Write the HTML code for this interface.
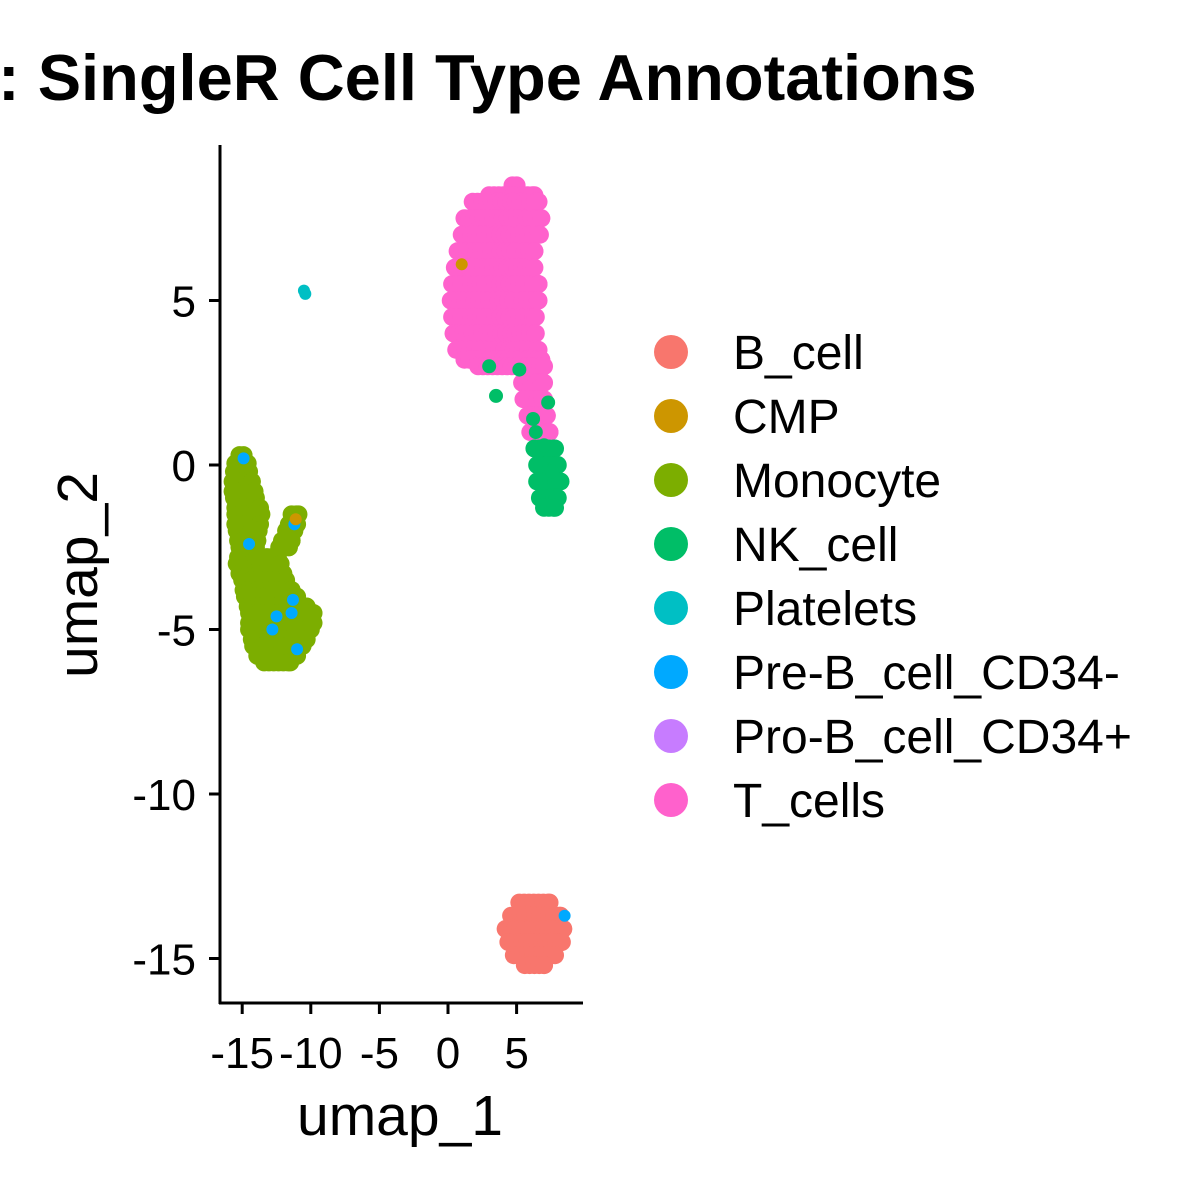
<!DOCTYPE html>
<html><head><meta charset="utf-8"><style>
body{margin:0;background:#fff;}
svg{display:block;font-family:"Liberation Sans",Arial,sans-serif;}
</style></head><body>
<svg id="chart" width="1200" height="1200">
<text x="-2" y="100" font-size="65" font-weight="bold">: SingleR Cell Type Annotations</text>
<g id="points"></g>
<line x1="220" y1="145" x2="220" y2="1004" stroke="#000" stroke-width="3"/>
<line x1="219" y1="1003" x2="583" y2="1003" stroke="#000" stroke-width="3"/>
<g id="xticks"></g>
<g id="yticks"></g>
<text x="400" y="1135" font-size="57" text-anchor="middle">umap_1</text>
<text transform="translate(97,575) rotate(-90)" font-size="57" text-anchor="middle">umap_2</text>
<g id="legend"></g>
</svg>
<script>
const xTicks=[-15,-10,-5,0,5];
const xTickLabels=["-15","-10","-5","0","5"];
const yTicks=[5,0,-5,-10,-15];
const yTickLabels=["5","0","-5","-10","-15"];
const categories=["B_cell","CMP","Monocyte","NK_cell","Platelets","Pre-B_cell_CD34-","Pro-B_cell_CD34+","T_cells"];
const colors=["#F8766D","#CD9600","#7CAE00","#00BE67","#00BFC4","#00A9FF","#C77CFF","#FF61CC"];
// cluster rows: y, x-start, x-end
const monoY=[0.3,0.05,-0.2,-0.5,-0.8,-1.0,-1.3,-1.5,-1.5,-1.8,-1.8,-2.0,-2.0,-2.3,-2.3,-2.5,-2.5,-2.8,-3.0,-3.3,-3.5,-3.8,-4.0,-4.3,-4.5,-4.8,-5.0,-5.3,-5.5,-5.8,-6.0];
const monoX0=[-15.2,-15.5,-15.6,-15.7,-15.7,-15.6,-15.5,-15.5,-11.4,-15.5,-11.6,-15.4,-11.8,-15.3,-12.1,-15.2,-12.3,-15.3,-15.4,-15.2,-15.0,-14.9,-14.8,-14.6,-14.5,-14.5,-14.5,-14.3,-14.2,-13.9,-13.4];
const monoX1=[-14.9,-14.6,-14.5,-14.3,-14.1,-14.0,-13.7,-13.6,-10.9,-13.7,-11.0,-13.8,-11.2,-13.9,-11.4,-14.0,-11.6,-12.4,-12.2,-12.0,-11.8,-11.4,-11.0,-10.3,-9.8,-9.8,-10.0,-10.3,-10.6,-11.0,-11.5];
const tY=[8.5,8.2,8.0,7.5,7.0,6.5,6.0,5.5,5.0,4.5,4.0,3.5,3.2,3.0,2.5,2.0,1.5,1.0];
const tX0=[4.7,3.0,1.8,1.2,1.0,0.7,0.5,0.3,0.2,0.3,0.4,0.6,1.2,2.2,5.4,5.5,5.8,6.0];
const tX1=[5.0,6.3,6.6,6.8,6.7,6.3,6.3,6.6,6.6,6.4,6.4,6.6,6.8,7.0,7.0,7.0,7.2,7.4];
const nkY=[0.5,0,-0.5,-1.0,-1.3];
const nkX0=[6.3,6.5,6.5,6.7,7.0];
const nkX1=[7.8,8.0,8.2,8.0,7.8];
const nkExtraX=[3.0,3.5,5.2,6.4,7.3,7.0,6.2,7.6];
const nkExtraY=[3.0,2.1,2.9,1.0,1.9,0.6,1.4,-0.2];
const bY=[-13.3,-13.7,-14.1,-14.5,-14.9,-15.2];
const bX0=[5.2,4.6,4.2,4.4,4.8,5.6];
const bX1=[7.4,8.2,8.4,8.3,7.8,7.0];
const preBX=[-14.9,-11.2,-14.5,-11.3,-11.4,-12.5,-12.8,-11.0,8.5];
const preBY=[0.2,-1.8,-2.4,-4.1,-4.5,-4.6,-5.0,-5.6,-13.7];
const cmpX=[-11.1,1.0];
const cmpY=[-1.65,6.1];
const platX=[-10.5,-10.4];
const platY=[5.3,5.2];

const NS="http://www.w3.org/2000/svg";
const sx=v=>448+v*13.72;
const sy=v=>465-v*32.9;
const pg=document.getElementById('points');
function dot(x,y,c,r,name){
  const el=document.createElementNS(NS,'circle');
  el.setAttribute('cx',sx(x));el.setAttribute('cy',sy(y));el.setAttribute('r',r);el.setAttribute('fill',c);
  
  
  pg.appendChild(el);
}
function rows(Y,X0,X1,c,name){
  for(let i=0;i<Y.length;i++){
    for(let x=X0[i];x<=X1[i]+1e-6;x+=0.35) dot(x,Y[i],c,9,name);
    dot(X1[i],Y[i],c,9,name);
  }
}
rows(monoY,monoX0,monoX1,colors[2],'monocyte-point');
rows(tY,tX0,tX1,colors[7],'t-cell-point');
rows(nkY,nkX0,nkX1,colors[3],'nk-cell-point');
for(let i=0;i<nkExtraX.length;i++) dot(nkExtraX[i],nkExtraY[i],colors[3],7,'nk-cell-point');
rows(bY,bX0,bX1,colors[0],'b-cell-point');
for(let i=0;i<preBX.length;i++) dot(preBX[i],preBY[i],colors[5],6,'pre-b-cell-point');
for(let i=0;i<cmpX.length;i++) dot(cmpX[i],cmpY[i],colors[1],6,'cmp-point');
for(let i=0;i<platX.length;i++) dot(platX[i],platY[i],colors[4],6,'platelet-point');

const xg=document.getElementById('xticks');
xTicks.forEach((v,i)=>{
  const l=document.createElementNS(NS,'line');
  l.setAttribute('x1',sx(v));l.setAttribute('x2',sx(v));l.setAttribute('y1',1003);l.setAttribute('y2',1014);
  l.setAttribute('stroke','#000');l.setAttribute('stroke-width',3);
  
  
  xg.appendChild(l);
  const t=document.createElementNS(NS,'text');
  t.setAttribute('x',sx(v));t.setAttribute('y',1068);t.setAttribute('font-size',44);t.setAttribute('text-anchor','middle');
  t.textContent=xTickLabels[i];
  
  
  xg.appendChild(t);
});
const yg=document.getElementById('yticks');
yTicks.forEach((v,i)=>{
  const l=document.createElementNS(NS,'line');
  l.setAttribute('x1',209);l.setAttribute('x2',220);l.setAttribute('y1',sy(v));l.setAttribute('y2',sy(v));
  l.setAttribute('stroke','#000');l.setAttribute('stroke-width',3);
  
  
  yg.appendChild(l);
  const t=document.createElementNS(NS,'text');
  t.setAttribute('x',196);t.setAttribute('y',sy(v)+16);t.setAttribute('font-size',44);t.setAttribute('text-anchor','end');
  t.textContent=yTickLabels[i];
  
  
  yg.appendChild(t);
});
const lg=document.getElementById('legend');
categories.forEach((c,i)=>{
  const y=352+i*64;
  const ci=document.createElementNS(NS,'circle');
  ci.setAttribute('cx',671);ci.setAttribute('cy',y);ci.setAttribute('r',17);ci.setAttribute('fill',colors[i]);
  
  
  lg.appendChild(ci);
  const t=document.createElementNS(NS,'text');
  t.setAttribute('x',733);t.setAttribute('y',y+17);t.setAttribute('font-size',48);
  t.textContent=c;
  
  
  lg.appendChild(t);
});
</script>
</body></html>
